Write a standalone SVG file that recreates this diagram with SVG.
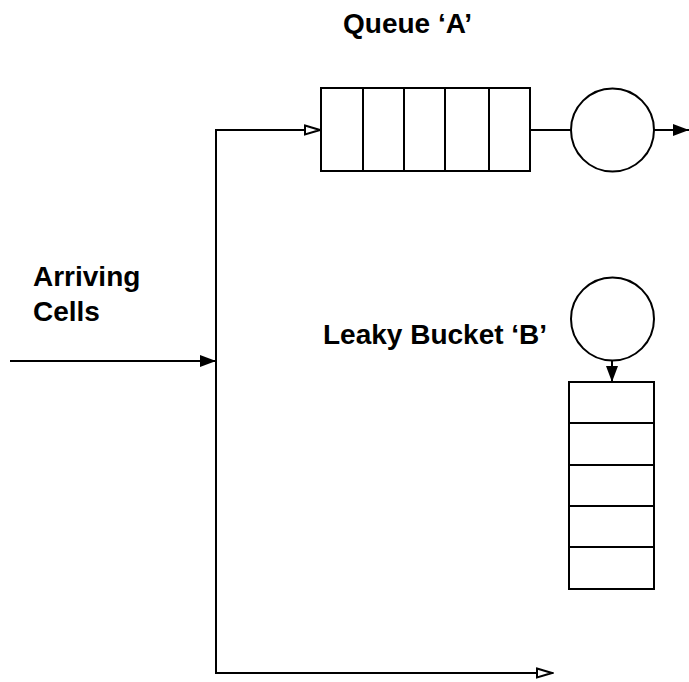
<svg xmlns="http://www.w3.org/2000/svg" width="689" height="682" viewBox="0 0 689 682">
<defs>
<style>
.ln{fill:none;stroke:#000;stroke-width:2}
.box{fill:#fff;stroke:#000;stroke-width:2}
.lbl{font-family:"Liberation Sans",Arial,Helvetica,sans-serif;font-weight:bold;font-size:28px;fill:#000}
</style>
<marker id="fill" viewBox="0 0 16 12" refX="16" refY="6" markerWidth="16" markerHeight="12" markerUnits="userSpaceOnUse" orient="auto">
<path d="M0,0 L16,6 L0,12 Z" fill="#000"/>
</marker>
<marker id="open" viewBox="0 0 18 12" refX="17" refY="6" markerWidth="18" markerHeight="12" markerUnits="userSpaceOnUse" orient="auto">
<path d="M1,1.5 L16,6 L1,10.5 Z" fill="#fff" stroke="#000" stroke-width="2"/>
</marker>
</defs>
<rect width="689" height="682" fill="#fff"/>
<g id="connectors">
<path class="ln" d="M10,361 L216,361" marker-end="url(#fill)"/>
<path class="ln" d="M216,361 L216,130 L321,130" marker-end="url(#open)"/>
<path class="ln" d="M216,361 L216,673 L553,673" marker-end="url(#open)"/>
<path class="ln" d="M530,130 L571,130"/>
<path class="ln" d="M654,130 L689,130" marker-end="url(#fill)"/>
<path class="ln" d="M612,360 L612,382" marker-end="url(#fill)"/>
</g>
<g id="queueA">
<rect class="box" x="321" y="88" width="209" height="83"/>
<path class="ln" d="M363,88 V171 M404,88 V171 M445,88 V171 M489,88 V171"/>
<text class="lbl" x="343" y="33">Queue ‘A’</text>
</g>
<g id="serverA">
<circle class="box" cx="612.5" cy="130" r="41.5"/>
</g>
<g id="bucketB">
<circle class="box" cx="612.5" cy="319" r="41.5"/>
<text class="lbl" x="323" y="344">Leaky Bucket ‘B’</text>
</g>
<g id="bucketQueueB">
<rect class="box" x="569" y="382" width="85" height="207"/>
<path class="ln" d="M569,423 H654 M569,465 H654 M569,506 H654 M569,547 H654"/>
</g>
<g id="arriving">
<text class="lbl" x="33" y="286">Arriving</text>
<text class="lbl" x="33" y="321">Cells</text>
</g>
</svg>
